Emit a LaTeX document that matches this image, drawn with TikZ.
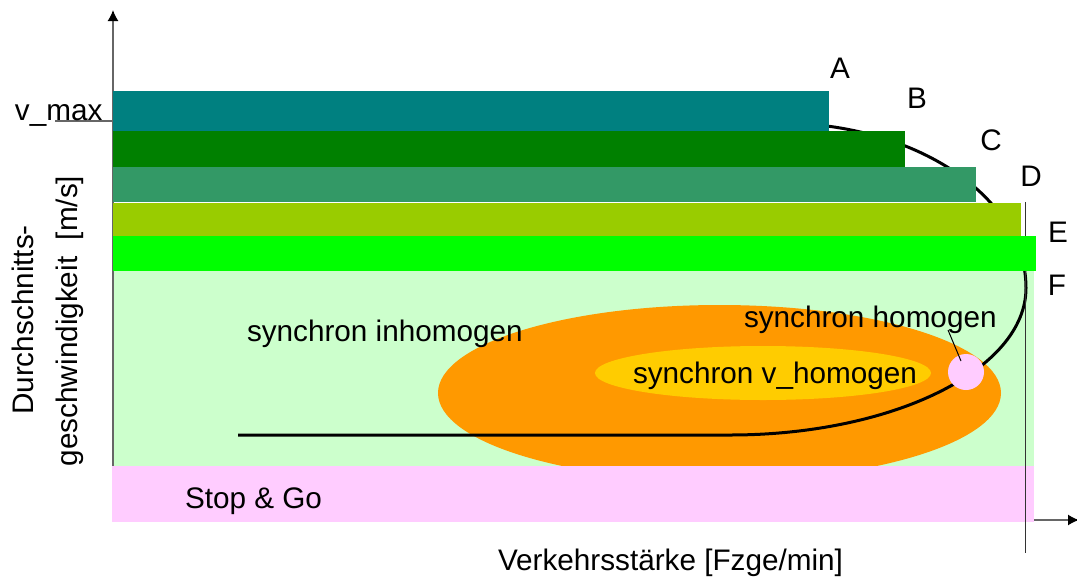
\documentclass[tikz,border=0pt]{standalone}
\usepackage{fontspec}
\setmainfont{Liberation Sans}
\usetikzlibrary{arrows.meta}
\definecolor{cA}{HTML}{008080}
\definecolor{cB}{HTML}{008000}
\definecolor{cC}{HTML}{339966}
\definecolor{cD}{HTML}{99CC00}
\definecolor{cE}{HTML}{00FF00}
\definecolor{cbg}{HTML}{CCFFCC}
\definecolor{cpink}{HTML}{FFCCFF}
\definecolor{corange}{HTML}{FF9900}
\definecolor{cyellow}{HTML}{FFCC00}
\definecolor{caxis}{HTML}{666666}
\tikzset{
  axisline/.style={draw=caxis, line width=1.5pt, -{Latex[length=11pt,width=11pt,color=black]}},
  lbl/.style={inner sep=0pt, outer sep=0pt, font=\fontsize{29.7pt}{35pt}\selectfont},
  flowcurve/.style={draw=black, line width=3pt},
  thinline/.style={draw=black!80, line width=1.2pt},
}
\begin{document}
\begin{tikzpicture}[x=1pt,y=1pt]
\useasboundingbox (0,0) rectangle (1077,-587);
% axes
\coordinate (origin) at (113,-520);
\coordinate (ytop) at (113,-10);
\coordinate (xend) at (1079,-520);
\draw[axisline] (origin) -- (ytop);
\draw[axisline] (origin) -- (xend);
% background region
\fill[cbg] (114,-271) rectangle (1034,-466);
% ellipses
\fill[corange] (719.5,-393) ellipse [x radius=281.5pt, y radius=88pt];
\fill[cyellow] (763,-373) ellipse [x radius=168pt, y radius=27pt];
% stop and go band
\fill[cpink] (112,-466) rectangle (1034,-521.5);
% fundamental curve
\coordinate (cstart) at (780,-123);
\coordinate (cend) at (238,-435);
\draw[flowcurve] (cstart) arc[start angle=90, end angle=0, x radius=246pt, y radius=165pt]
  arc[start angle=0, end angle=-90, x radius=296pt, y radius=147pt] -- (cend);
% homogeneous state circle
\node[circle, fill=cpink, minimum size=36pt, inner sep=0pt] (hc) at (966,-372) {};
% labels
\node[lbl, anchor=base west] (inh) at (247,-341) {synchron inhomogen};
\node[lbl, anchor=base west] (hom) at (744,-327) {synchron homogen};
\node[lbl, anchor=base west] (vhom) at (633,-383) {synchron v\_homogen};
\node[lbl, anchor=base west] (sg) at (185,-508) {Stop \& Go};
\node[lbl, anchor=base west] (xl) at (498,-570) {Verkehrsstärke [Fzge/min]};
\node[lbl, anchor=base, rotate=90] (yl1) at (33,-320) {Durchschnitts-};
\node[lbl, anchor=base, rotate=90] (yl2) at (77,-321) {geschwindigkeit\ \ [m/s]};
% leader
\coordinate (leadA) at (948,-330);
\coordinate (leadB) at (961,-361);
\draw[black, line width=1pt] (leadA) -- (leadB);
% capacity line
\coordinate (capT) at (1025.5,-202);
\coordinate (capB) at (1025.5,-553);
\draw[thinline] (capT) -- (capB);
% v_max tick
\coordinate (vtick) at (55,-121);
\draw[draw=caxis, line width=1.5pt] (vtick) -- (113,-121);
\node[lbl, anchor=base west] (vmax) at (15,-120) {v\_max};
% level bars
\fill[cA] (112.5,-91) rectangle (829,-131);
\fill[cB] (112.5,-131) rectangle (905,-167);
\fill[cC] (112.5,-167) rectangle (976,-202);
\fill[cD] (112.5,-203) rectangle (1021,-236);
\fill[cE] (112.5,-236) rectangle (1036,-271);
% level letters
\node[lbl, anchor=base] (la) at (840,-78) {A};
\node[lbl, anchor=base] (lb) at (917,-108) {B};
\node[lbl, anchor=base] (lc) at (991,-150) {C};
\node[lbl, anchor=base] (ld) at (1031,-186) {D};
\node[lbl, anchor=base] (le) at (1058,-242) {E};
\node[lbl, anchor=base] (lf) at (1057,-295) {F};
\end{tikzpicture}
\end{document}
